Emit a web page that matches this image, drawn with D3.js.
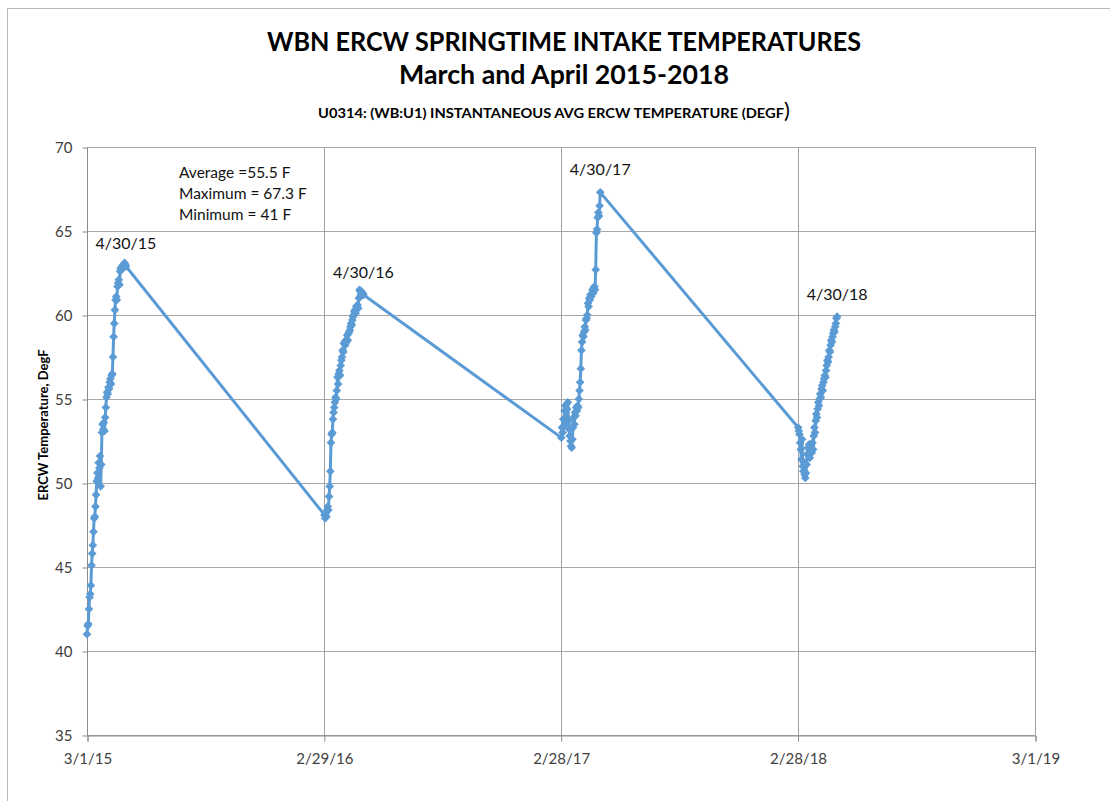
<!DOCTYPE html>
<html>
<head>
<meta charset="utf-8">
<script src="https://cdn.jsdelivr.net/npm/d3@7"></script>
<style>
  body { margin: 0; background: #fff; }
  svg { display: block; font-family: Lato, "Open Sans", sans-serif; }
</style>
</head>
<body>
<svg id="chart" width="1110" height="801"></svg>
<script>
// first day of each spring record
const yearStarts = ["2015-03-01", "2016-03-01", "2017-03-01", "2018-03-01"]

// daily readings, 3/1 .. 4/30, DegF
const temps2015 = [41.0, 41.5, 41.6, 42.5, 43.2, 43.4, 43.9, 45.1, 45.8, 46.3, 47.1, 47.9, 48.0, 48.6, 49.3, 50.1,
  50.6, 50.3, 51.2, 50.9, 51.6, 49.8, 51.1, 53.0, 53.5, 53.2, 53.6, 53.1, 53.9, 54.5, 55.1, 55.4, 55.3, 55.7,
  55.6, 56.0, 56.2, 55.9, 56.4, 56.5, 57.5, 58.7, 59.5, 60.3, 60.9, 61.1, 60.9, 61.7, 61.9, 62.1, 61.8, 62.6,
  62.8, 62.7, 62.9, 62.8, 63.0, 62.9, 63.1, 63.0, 62.9]
const temps2016 = [48.1, 47.9, 48.2, 48.0, 48.4, 48.6, 48.4, 49.2, 49.8, 50.7, 52.4, 52.9, 53.0, 53.8, 54.2, 54.5,
  54.8, 55.1, 55.0, 55.5, 56.3, 55.9, 56.5, 56.7, 56.4, 57.0, 57.3, 57.5, 57.9, 57.8, 58.3, 58.4, 58.2, 58.5,
  58.4, 58.8, 58.5, 58.9, 59.0, 59.1, 59.3, 59.5, 59.4, 59.7, 59.9, 60.0, 60.2, 60.3, 60.1, 60.5, 60.4, 60.6,
  60.4, 61.0, 61.5, 61.4, 61.2, 61.4, 61.3, 61.3, 61.2]
const temps2017 = [52.7, 53.3, 53.0, 53.8, 53.4, 54.3, 54.6, 53.6, 53.9, 54.4, 54.8, 53.7, 53.2, 52.8, 52.5, 52.2,
  52.1, 52.6, 53.3, 53.9, 53.5, 54.2, 54.0, 54.5, 54.3, 54.6, 54.5, 55.0, 55.5, 56.0, 56.8, 57.9, 58.4, 58.8,
  58.7, 59.0, 59.3, 59.1, 59.7, 59.8, 60.0, 60.7, 60.5, 61.0, 60.9, 61.2, 61.1, 61.3, 61.5, 61.3, 61.6, 61.7,
  61.5, 62.7, 64.9, 65.1, 65.8, 66.1, 65.9, 66.5, 67.3]
const temps2018 = [53.3, 53.1, 52.9, 52.4, 52.0, 51.4, 52.6, 51.0, 50.7, 51.2, 50.5, 50.3, 50.6, 51.1, 51.7, 52.1,
  51.8, 52.3, 51.5, 51.9, 52.2, 51.8, 52.4, 52.0, 52.8, 53.3, 53.0, 53.7, 54.1, 53.9, 54.4, 54.8, 54.6, 55.0,
  55.3, 55.1, 55.6, 55.8, 55.5, 56.0, 56.2, 56.4, 56.3, 56.7, 57.0, 57.3, 57.2, 57.5, 57.9, 57.8, 58.2, 58.5,
  58.4, 58.7, 58.9, 59.1, 59.0, 59.3, 59.5, 59.8, 59.9]

const xTicks = ["2015-03-01", "2016-02-29", "2017-02-28", "2018-02-28", "2019-03-01"]
const yTicks = [35, 40, 45, 50, 55, 60, 65, 70]
const peakLabels = ["4/30/15", "4/30/16", "4/30/17", "4/30/18"]
const statLines = ["Average =55.5 F", "Maximum = 67.3 F", "Minimum = 41 F"]

const parse = d3.utcParse("%Y-%m-%d")
const fmt = d3.utcFormat("%-m/%-d/%y")

const series = [temps2015, temps2016, temps2017, temps2018].map((vals, i) => {
  const start = parse(yearStarts[i])
  return vals.map((v, k) => ({ date: d3.utcDay.offset(start, k), value: v }))
})
const data = series.flat()

const svg = d3.select("#chart")

const x = d3.scaleUtc()
  .domain([parse(xTicks[0]), parse(xTicks[xTicks.length - 1])])
  .range([87, 1035])
const y = d3.scaleLinear().domain([35, 70]).range([735, 147])

// outer frame
svg.append("rect")
  .attr("x", 7.5).attr("y", 8.5)
  .attr("width", 1130).attr("height", 800)
  .attr("fill", "none").attr("stroke", "#b8b8b8")

/*
  Titles
*/
svg.append("text")
  .attr("x", 564).attr("y", 51)
  .attr("text-anchor", "middle")
  .attr("font-weight", "bold").attr("font-size", 27)
  .attr("textLength", 594).attr("lengthAdjust", "spacingAndGlyphs")
  .attr("fill", "#000")
  .text("WBN ERCW SPRINGTIME INTAKE TEMPERATURES")

svg.append("text")
  .attr("x", 564).attr("y", 84)
  .attr("text-anchor", "middle")
  .attr("font-weight", "bold").attr("font-size", 27)
  .attr("textLength", 330).attr("lengthAdjust", "spacingAndGlyphs")
  .attr("fill", "#000")
  .text("March and April 2015-2018")

const sub = svg.append("text")
  .attr("x", 318).attr("y", 118)
  .attr("font-weight", "bold").attr("font-size", 13)
  .attr("fill", "#000")
sub.append("tspan")
  .attr("textLength", 466).attr("lengthAdjust", "spacingAndGlyphs")
  .text("U0314: (WB:U1) INSTANTANEOUS AVG ERCW TEMPERATURE (DEGF")
sub.append("tspan").attr("font-size", 22).attr("font-weight", "normal").text(")")

/*
  Grid + axes
*/
svg.append("g")
  .attr("stroke", "#a6a6a6")
  .selectAll("line")
  .data(yTicks)
  .enter()
  .append("line")
  .attr("x1", 87).attr("x2", 1035)
  .attr("y1", (d) => y(d) + 0.5).attr("y2", (d) => y(d) + 0.5)

svg.append("g")
  .attr("stroke", "#a0a0a0")
  .selectAll("line")
  .data(xTicks.slice(1))
  .enter()
  .append("line")
  .attr("x1", (d) => Math.round(x(parse(d))) + 0.5)
  .attr("x2", (d) => Math.round(x(parse(d))) + 0.5)
  .attr("y1", 147).attr("y2", 735)

const yAxis = svg.append("g")
  .attr("transform", "translate(87.5,0.5)")
  .call(d3.axisLeft(y).tickValues(yTicks).tickSize(5).tickPadding(10))
yAxis.select(".domain").attr("stroke", "#8c8c8c").attr("d", "M0,147V735")
yAxis.selectAll(".tick line").attr("stroke", "#8c8c8c")
yAxis.selectAll("text")
  .attr("font-family", "Lato, sans-serif").attr("font-size", 15).attr("fill", "#404040")

const xAxis = svg.append("g")
  .attr("transform", "translate(0.5,735.5)")
  .call(
    d3.axisBottom(x)
      .tickValues(xTicks.map(parse))
      .tickFormat(fmt)
      .tickSize(6)
      .tickPadding(12)
  )
xAxis.select(".domain").attr("stroke", "#8c8c8c")
xAxis.selectAll(".tick line").attr("stroke", "#8c8c8c")
xAxis.selectAll("text")
  .attr("font-family", "Lato, sans-serif").attr("font-size", 15).attr("fill", "#404040")

svg.append("text")
  .attr("transform", "translate(48,425) rotate(-90)")
  .attr("text-anchor", "middle")
  .attr("font-weight", "bold").attr("font-size", 13)
  .attr("fill", "#000")
  .text("ERCW Temperature, DegF")

/*
  Temperature line with diamond markers
*/
const line = d3.line()
  .x((d) => x(d.date))
  .y((d) => y(d.value))

svg.append("path")
  .datum(data)
  .attr("d", line)
  .attr("fill", "none")
  .attr("stroke", "#5b9bd5")
  .attr("stroke-width", 3)
  .attr("stroke-linejoin", "round")

// Excel-style diamonds: squares turned 45 degrees
svg.append("g")
  .attr("fill", "#5b9bd5")
  .selectAll("path")
  .data(data)
  .enter()
  .append("path")
  .attr("d", d3.symbol(d3.symbolSquare, 38))
  .attr("transform", (d) => "translate(" + x(d.date) + "," + y(d.value) + ") rotate(45)")

// peak date labels above the last reading of each spring
svg.append("g")
  .selectAll("text")
  .data(series)
  .enter()
  .append("text")
  .attr("x", (s) => x(s[s.length - 1].date))
  .attr("y", (s) => y(s[s.length - 1].value) - 17)
  .attr("text-anchor", "middle")
  .attr("font-size", 16)
  .attr("fill", "#111")
  .text((s, i) => peakLabels[i])

svg.append("g")
  .selectAll("text")
  .data(statLines)
  .enter()
  .append("text")
  .attr("x", 179)
  .attr("y", (d, i) => 178 + i * 21)
  .attr("font-size", 15.5)
  .attr("fill", "#111")
  .text((d) => d)
</script>
</body>
</html>
